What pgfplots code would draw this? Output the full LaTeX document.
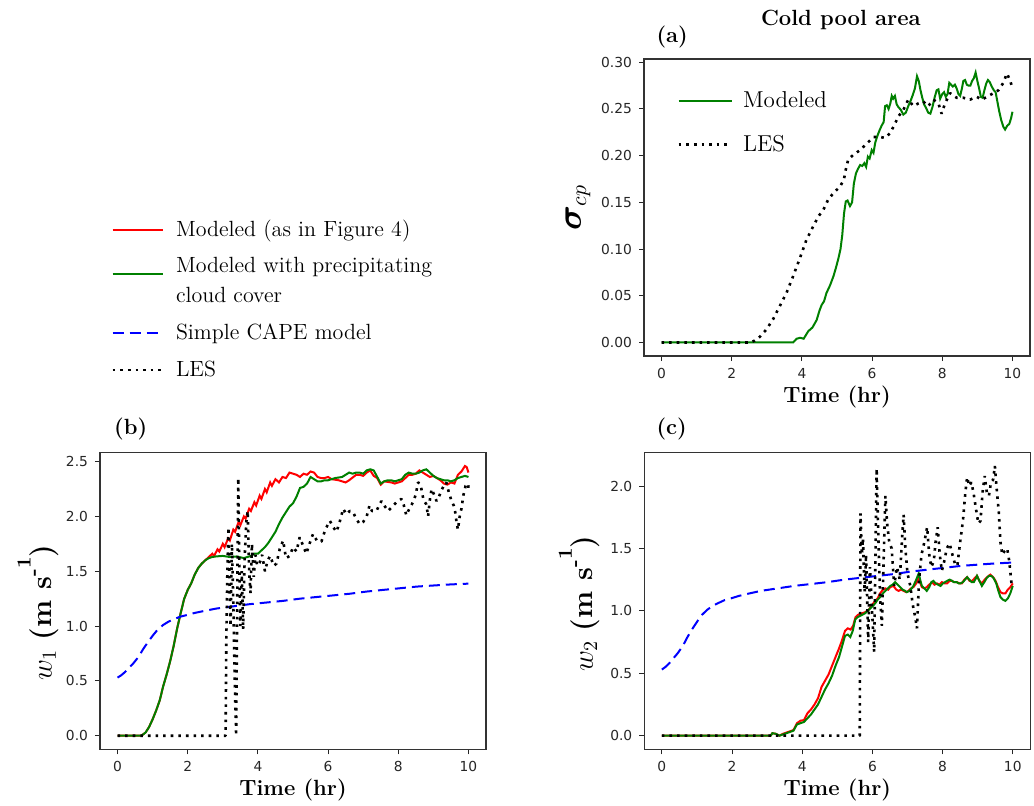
\documentclass[border=0pt]{standalone}
\usepackage{fontspec}
\usepackage{bm}
\usepackage{pgfplots}
\pgfplotsset{compat=1.18}
\newfontfamily\dejavu{DejaVu Sans}
\definecolor{mplgreen}{rgb}{0,0.5,0}
\newcommand{\unitlab}{\textbf{(m s\raisebox{0.42em}{\fontsize{10}{10}\selectfont -}\raisebox{0.72em}{\fontsize{10}{10}\selectfont 1})}}
\pgfplotsset{
  myaxis/.style={
    scale only axis, width=193pt, height=148.5pt,
    xmin=-0.5, xmax=10.5, xtick={0,2,...,10},
    tick pos=left, tick align=outside, major tick length=2.5pt,
    tick style={black!85, line width=0.5pt},
    axis line style={black!80, line width=0.6pt},
    tick label style={font=\dejavu\fontsize{6.9}{8}\selectfont, text=black!85},
    /pgf/number format/assume math mode=true,
    xlabel={\textbf{Time (hr)}},
    x label style={font=\fontsize{11}{13}\selectfont, at={(axis description cs:0.5,-0.138)}, anchor=center},
    y label style={font=\fontsize{14.5}{17}\selectfont, at={(axis description cs:-0.168,0.5)}, anchor=center},
    clip=false,
    legend image code/.code={\draw[##1] (0pt,0pt) -- (25pt,0pt);},
  },
  aleg/.style={legend image code/.code={\draw[##1] (0pt,0pt) -- (26.5pt,0pt);}},
  greenleg/.style={legend image code/.code={\draw[##1] (0pt,4pt) -- (25pt,4pt);}},
  redl/.style={color=red, line width=1pt},
  greenl/.style={color=mplgreen, line width=1pt},
  bluel/.style={color=blue, line width=1pt, dash pattern=on 5.5pt off 3pt},
  lesl/.style={color=black, line width=1.3pt, line join=bevel, dash pattern=on 1.3pt off 2.5pt},
}
\pgfplotstableread{
x y
0 0.53
0.1 0.55
0.21 0.58
0.33 0.62
0.45 0.66
0.6 0.72
0.73 0.79
0.88 0.86
1.02 0.92
1.15 0.97
1.3 1.01
1.45 1.04
1.59 1.06
1.78 1.085
1.97 1.10
2.2 1.12
2.5 1.14
2.82 1.16
3.3 1.18
3.77 1.20
4.25 1.215
4.72 1.23
5.2 1.25
5.67 1.265
6.15 1.28
6.62 1.295
7.1 1.315
7.57 1.33
8.05 1.345
8.52 1.36
9.0 1.37
9.5 1.38
10 1.387
}\capetable
\begin{document}
\begin{tikzpicture}
\path[use as bounding box] (0,0) rectangle (517pt,402.5pt);
% ---------------- (a)
\begin{axis}[myaxis, aleg, at={(322pt,224.5pt)}, anchor=south west,
  ymin=-0.0145, ymax=0.3035, ytick={0,0.05,...,0.3},
  yticklabel style={/pgf/number format/.cd, fixed, fixed zerofill, precision=2},
  ylabel={$\bm{\sigma}_{cp}$},
  y label style={font=\fontsize{16}{18}\selectfont, at={(axis description cs:-0.171,0.5)}},
  legend style={at={(axis description cs:0.07,0.92)}, anchor=north west, draw=none, fill=none,
    font=\fontsize{11.5}{13}\selectfont, row sep=8.5pt, column sep=3pt},
  legend cell align=left,
]
\addplot[greenl] coordinates {(0,0) (3.75,0) (3.85,0.004) (3.95,0.005) (4.05,0.004) (4.18,0.012) (4.3,0.016) (4.42,0.024) (4.5,0.034) (4.56,0.040) (4.63,0.044) (4.7,0.053) (4.8,0.061) (4.9,0.071) (4.97,0.080) (5.04,0.090) (5.1,0.100) (5.15,0.115) (5.2,0.138) (5.25,0.151) (5.3,0.152) (5.37,0.146) (5.43,0.150) (5.48,0.170) (5.54,0.181) (5.6,0.186) (5.66,0.190) (5.72,0.189) (5.78,0.192) (5.83,0.188) (5.88,0.199) (5.93,0.197) (5.99,0.206) (6.04,0.203) (6.09,0.214) (6.14,0.220) (6.2,0.226) (6.27,0.232) (6.33,0.236) (6.37,0.253) (6.42,0.254) (6.47,0.250) (6.52,0.256) (6.56,0.264) (6.6,0.261) (6.65,0.264) (6.7,0.255) (6.75,0.252) (6.82,0.249) (6.89,0.244) (6.96,0.246) (7.03,0.253) (7.1,0.259) (7.16,0.265) (7.22,0.272) (7.28,0.285) (7.33,0.280) (7.38,0.270) (7.43,0.262) (7.48,0.255) (7.54,0.251) (7.6,0.246) (7.66,0.245) (7.72,0.252) (7.78,0.262) (7.84,0.270) (7.89,0.271) (7.94,0.261) (8.0,0.266) (8.05,0.268) (8.1,0.263) (8.15,0.266) (8.2,0.278) (8.25,0.276) (8.3,0.274) (8.36,0.276) (8.41,0.272) (8.46,0.266) (8.51,0.264) (8.56,0.272) (8.6,0.280) (8.65,0.281) (8.7,0.276) (8.75,0.275) (8.8,0.275) (8.85,0.280) (8.9,0.283) (8.95,0.289) (9.0,0.280) (9.05,0.272) (9.1,0.263) (9.15,0.262) (9.2,0.270) (9.25,0.277) (9.3,0.281) (9.35,0.279) (9.41,0.274) (9.47,0.270) (9.52,0.268) (9.57,0.258) (9.62,0.248) (9.68,0.238) (9.74,0.231) (9.79,0.228) (9.85,0.232) (9.91,0.234) (9.96,0.240) (10,0.247)};
\addlegendentry{Modeled}
\addplot[lesl] coordinates {(0,0) (2.55,0) (2.65,0.002) (2.8,0.006) (2.99,0.014) (3.18,0.025) (3.37,0.039) (3.56,0.053) (3.75,0.071) (3.94,0.090) (4.13,0.110) (4.33,0.125) (4.47,0.135) (4.61,0.142) (4.75,0.153) (4.9,0.160) (5.09,0.167) (5.2,0.175) (5.25,0.185) (5.32,0.196) (5.47,0.201) (5.66,0.206) (5.85,0.213) (6.04,0.220) (6.23,0.220) (6.37,0.219) (6.51,0.224) (6.61,0.231) (6.75,0.242) (6.89,0.249) (7.03,0.260) (7.18,0.253) (7.32,0.256) (7.46,0.258) (7.6,0.253) (7.75,0.260) (7.89,0.256) (7.98,0.245) (8.08,0.256) (8.22,0.267) (8.41,0.262) (8.6,0.262) (8.79,0.260) (8.98,0.263) (9.13,0.260) (9.27,0.263) (9.46,0.267) (9.6,0.270) (9.74,0.278) (9.84,0.288) (9.93,0.281) (10,0.272)};
\addlegendentry{LES}
\node[font=\bfseries\fontsize{11}{13}\selectfont] at (axis description cs:0.51,1.131) {Cold pool area};
\node[font=\bfseries\fontsize{11}{13}\selectfont] at (axis description cs:0.073,1.075) {(a)};
\end{axis}
% ---------------- (b)
\begin{axis}[myaxis, at={(50pt,27.85pt)}, anchor=south west,
  ymin=-0.124, ymax=2.585, ytick={0,0.5,...,2.5},
  yticklabel style={/pgf/number format/.cd, fixed, fixed zerofill, precision=1},
  ylabel={$w_1$ \unitlab},
  y label style={at={(axis description cs:-0.16,0.46)}},
  legend style={at={(axis description cs:0.013,1.81)}, anchor=north west, draw=none, fill=none,
    font=\fontsize{11}{15}\selectfont, row sep=5pt, column sep=4pt, cells={align=left}},
  legend cell align=left,
]
\addplot[redl] coordinates {(0,0) (0.68,0) (0.8,0.03) (0.9,0.08) (1.0,0.15) (1.1,0.23) (1.2,0.32) (1.3,0.45) (1.4,0.56) (1.5,0.68) (1.6,0.82) (1.7,0.98) (1.8,1.12) (1.9,1.25) (2.0,1.33) (2.1,1.39) (2.2,1.47) (2.3,1.53) (2.4,1.57) (2.5,1.60) (2.6,1.63) (2.7,1.66) (2.75,1.64) (2.85,1.70) (2.9,1.68) (3.0,1.75) (3.05,1.72) (3.15,1.80) (3.2,1.78) (3.3,1.88) (3.35,1.86) (3.45,1.95) (3.5,1.92) (3.6,2.0) (3.65,1.98) (3.75,2.07) (3.8,2.05) (3.9,2.13) (3.95,2.10) (4.05,2.19) (4.1,2.16) (4.2,2.25) (4.25,2.22) (4.35,2.31) (4.4,2.28) (4.5,2.34) (4.6,2.31) (4.7,2.36) (4.8,2.35) (4.9,2.40) (5.0,2.39) (5.1,2.38) (5.2,2.36) (5.3,2.39) (5.4,2.38) (5.5,2.41) (5.6,2.40) (5.7,2.36) (5.8,2.35) (5.9,2.35) (6.0,2.36) (6.1,2.34) (6.3,2.33) (6.5,2.31) (6.6,2.33) (6.8,2.38) (6.9,2.38) (7.0,2.37) (7.1,2.40) (7.2,2.42) (7.3,2.37) (7.4,2.35) (7.5,2.29) (7.6,2.32) (7.8,2.31) (7.9,2.30) (8.0,2.31) (8.1,2.32) (8.2,2.35) (8.3,2.38) (8.4,2.38) (8.5,2.39) (8.6,2.42) (8.7,2.40) (8.8,2.38) (8.9,2.36) (9.0,2.37) (9.1,2.35) (9.2,2.33) (9.3,2.30) (9.4,2.29) (9.5,2.31) (9.6,2.30) (9.7,2.38) (9.8,2.41) (9.9,2.46) (9.95,2.45) (10,2.40)};
\addlegendentry{Modeled (as in Figure 4)}
\addplot[greenl, greenleg] coordinates {(0,0) (0.68,0) (0.8,0.03) (0.9,0.08) (1.0,0.15) (1.1,0.23) (1.2,0.32) (1.3,0.45) (1.4,0.56) (1.5,0.68) (1.6,0.82) (1.7,0.98) (1.8,1.12) (1.9,1.25) (2.0,1.33) (2.1,1.39) (2.2,1.47) (2.3,1.53) (2.4,1.57) (2.5,1.60) (2.6,1.62) (2.7,1.63) (2.8,1.635) (3.0,1.64) (3.2,1.63) (3.4,1.635) (3.6,1.62) (3.8,1.64) (3.9,1.66) (4.0,1.66) (4.1,1.69) (4.2,1.72) (4.3,1.76) (4.4,1.81) (4.5,1.86) (4.6,1.93) (4.7,1.99) (4.8,2.04) (4.9,2.09) (5.0,2.12) (5.1,2.18) (5.2,2.26) (5.3,2.27) (5.4,2.30) (5.5,2.36) (5.6,2.34) (5.7,2.32) (5.8,2.32) (5.9,2.33) (6.0,2.33) (6.2,2.35) (6.4,2.36) (6.5,2.38) (6.6,2.40) (6.7,2.39) (6.8,2.40) (6.9,2.40) (7.0,2.39) (7.1,2.42) (7.2,2.43) (7.3,2.42) (7.4,2.36) (7.5,2.30) (7.6,2.32) (7.7,2.33) (7.8,2.33) (7.9,2.32) (8.0,2.33) (8.1,2.34) (8.2,2.38) (8.3,2.40) (8.4,2.39) (8.5,2.39) (8.6,2.40) (8.7,2.42) (8.8,2.43) (8.9,2.40) (9.0,2.37) (9.1,2.35) (9.2,2.34) (9.3,2.33) (9.4,2.33) (9.5,2.32) (9.6,2.33) (9.7,2.35) (9.8,2.36) (9.9,2.37) (10.0,2.36)};
\addlegendentry{Modeled with precipitating\\cloud cover}
\addplot[bluel] table {\capetable};
\addlegendentry{Simple CAPE model}
\addplot[lesl] coordinates {(0,0) (3.08,0) (3.10,0.9) (3.13,1.5) (3.16,1.9) (3.19,1.4) (3.22,1.0) (3.26,1.75) (3.30,1.2) (3.34,0.5) (3.38,0.0) (3.41,1.2) (3.44,2.35) (3.47,1.6) (3.50,1.0) (3.54,1.5) (3.58,0.97) (3.62,1.6) (3.67,1.95) (3.71,2.05) (3.75,1.5) (3.79,1.3) (3.83,1.75) (3.88,1.45) (3.93,1.65) (3.98,1.55) (4.05,1.58) (4.12,1.65) (4.2,1.50) (4.28,1.60) (4.35,1.64) (4.45,1.55) (4.53,1.57) (4.62,1.70) (4.72,1.78) (4.8,1.62) (4.91,1.64) (5.0,1.72) (5.1,1.68) (5.19,1.81) (5.28,1.74) (5.38,1.66) (5.47,1.75) (5.57,1.84) (5.68,1.78) (5.81,1.77) (5.92,1.88) (6.05,1.96) (6.15,1.90) (6.24,1.86) (6.33,1.95) (6.43,2.07) (6.52,2.02) (6.62,2.05) (6.71,2.04) (6.8,1.98) (6.9,1.93) (7.0,1.95) (7.1,2.0) (7.18,2.10) (7.25,2.05) (7.38,2.05) (7.45,2.10) (7.52,2.14) (7.6,2.10) (7.71,2.05) (7.8,2.08) (7.95,2.13) (8.09,2.16) (8.16,2.10) (8.23,2.01) (8.3,2.06) (8.42,2.13) (8.5,2.2) (8.56,2.31) (8.62,2.30) (8.66,2.25) (8.72,2.15) (8.8,2.11) (8.85,2.0) (8.9,2.15) (8.95,2.25) (9.02,2.20) (9.09,2.14) (9.16,2.18) (9.23,2.24) (9.30,2.28) (9.37,2.31) (9.44,2.22) (9.52,2.14) (9.58,2.10) (9.61,2.07) (9.66,1.95) (9.70,1.88) (9.75,2.0) (9.80,2.07) (9.86,2.2) (9.92,2.28) (9.99,2.30) (10.0,2.25)};
\addlegendentry{LES}
\node[font=\bfseries\fontsize{11}{13}\selectfont] at (axis description cs:0.0795,1.079) {(b)};
\end{axis}
% ---------------- (c)
\begin{axis}[myaxis, at={(322.15pt,27.85pt)}, anchor=south west,
  ymin=-0.109, ymax=2.27, ytick={0,0.5,...,2.0},
  yticklabel style={/pgf/number format/.cd, fixed, fixed zerofill, precision=1},
  ylabel={$w_2$ \unitlab},
  y label style={at={(axis description cs:-0.168,0.49)}},
]
\addplot[redl] coordinates {(0,0) (3.1,0) (3.15,0.02) (3.25,0.015) (3.35,0.0) (3.45,0.015) (3.6,0.03) (3.75,0.045) (3.85,0.10) (3.95,0.12) (4.05,0.125) (4.15,0.18) (4.25,0.21) (4.35,0.25) (4.45,0.30) (4.55,0.39) (4.65,0.44) (4.75,0.49) (4.85,0.56) (4.95,0.63) (5.05,0.70) (5.13,0.76) (5.22,0.84) (5.30,0.86) (5.38,0.85) (5.45,0.88) (5.52,0.95) (5.6,0.97) (5.7,0.98) (5.8,0.99) (5.9,1.01) (6.0,1.05) (6.08,1.08) (6.15,1.10) (6.22,1.14) (6.30,1.17) (6.37,1.18) (6.45,1.17) (6.51,1.19) (6.6,1.20) (6.68,1.17) (6.75,1.16) (6.82,1.17) (6.89,1.16) (6.96,1.15) (7.03,1.16) (7.10,1.18) (7.17,1.19) (7.25,1.22) (7.32,1.26) (7.37,1.22) (7.41,1.19) (7.48,1.18) (7.55,1.19) (7.62,1.21) (7.70,1.23) (7.77,1.21) (7.84,1.22) (7.91,1.21) (7.98,1.23) (8.05,1.22) (8.13,1.22) (8.20,1.24) (8.27,1.24) (8.34,1.23) (8.41,1.23) (8.48,1.22) (8.55,1.22) (8.62,1.25) (8.70,1.27) (8.77,1.24) (8.84,1.24) (8.91,1.26) (8.98,1.28) (9.05,1.24) (9.12,1.22) (9.2,1.25) (9.27,1.27) (9.36,1.29) (9.44,1.27) (9.51,1.24) (9.58,1.19) (9.65,1.15) (9.72,1.14) (9.79,1.14) (9.86,1.17) (9.93,1.19) (10,1.22)};
\addplot[greenl] coordinates {(0,0) (3.1,0) (3.15,0.02) (3.25,0.015) (3.35,0.0) (3.45,0.01) (3.6,0.025) (3.75,0.04) (3.85,0.09) (3.95,0.10) (4.05,0.11) (4.15,0.14) (4.25,0.17) (4.35,0.21) (4.45,0.25) (4.55,0.31) (4.65,0.37) (4.75,0.42) (4.85,0.48) (4.95,0.56) (5.05,0.63) (5.13,0.71) (5.22,0.80) (5.30,0.81) (5.37,0.79) (5.44,0.84) (5.51,0.93) (5.58,0.95) (5.65,0.96) (5.72,0.97) (5.79,0.98) (5.86,1.00) (5.94,1.02) (6.01,1.04) (6.08,1.06) (6.15,1.09) (6.22,1.11) (6.30,1.14) (6.37,1.16) (6.44,1.18) (6.51,1.20) (6.58,1.21) (6.65,1.23) (6.72,1.21) (6.79,1.19) (6.86,1.17) (6.93,1.16) (6.98,1.15) (7.05,1.16) (7.12,1.18) (7.17,1.20) (7.25,1.25) (7.32,1.30) (7.37,1.24) (7.41,1.20) (7.48,1.18) (7.55,1.16) (7.62,1.19) (7.68,1.23) (7.74,1.24) (7.80,1.22) (7.87,1.21) (7.94,1.20) (8.01,1.22) (8.07,1.23) (8.13,1.24) (8.20,1.25) (8.27,1.24) (8.32,1.23) (8.40,1.23) (8.46,1.22) (8.51,1.22) (8.58,1.23) (8.64,1.25) (8.70,1.27) (8.76,1.25) (8.83,1.23) (8.89,1.23) (8.95,1.26) (8.98,1.28) (9.05,1.24) (9.12,1.20) (9.19,1.23) (9.25,1.26) (9.32,1.28) (9.39,1.28) (9.46,1.26) (9.53,1.22) (9.59,1.16) (9.65,1.11) (9.72,1.09) (9.79,1.08) (9.86,1.10) (9.93,1.14) (10,1.20)};
\addplot[bluel] table {\capetable};
\addplot[lesl] coordinates {(0,0) (5.64,0) (5.66,1.78) (5.70,1.45) (5.73,1.58) (5.78,1.15) (5.82,1.45) (5.88,0.75) (5.93,1.35) (6.0,0.95) (6.05,0.67) (6.09,1.5) (6.12,2.14) (6.17,1.6) (6.22,1.1) (6.27,0.88) (6.32,1.4) (6.37,1.92) (6.42,1.7) (6.48,1.55) (6.55,1.5) (6.62,1.2) (6.70,1.35) (6.78,1.25) (6.85,1.6) (6.89,1.77) (6.94,1.5) (7.0,1.3) (7.08,1.2) (7.15,1.05) (7.22,0.95) (7.27,0.86) (7.33,1.25) (7.40,1.45) (7.48,1.55) (7.56,1.67) (7.62,1.45) (7.68,1.35) (7.75,1.40) (7.80,1.55) (7.86,1.67) (7.92,1.45) (7.98,1.32) (8.05,1.40) (8.12,1.50) (8.20,1.54) (8.28,1.45) (8.35,1.38) (8.42,1.36) (8.50,1.55) (8.58,1.72) (8.65,1.95) (8.70,2.07) (8.76,2.0) (8.82,2.03) (8.88,1.95) (8.95,1.82) (9.02,1.70) (9.08,1.72) (9.14,1.95) (9.20,2.08) (9.26,1.95) (9.32,1.92) (9.38,2.03) (9.44,2.05) (9.49,2.16) (9.55,1.95) (9.60,1.80) (9.65,1.55) (9.70,1.45) (9.77,1.48) (9.84,1.50) (9.90,1.40) (9.96,1.23) (10.0,1.20)};
\node[font=\bfseries\fontsize{11}{13}\selectfont] at (axis description cs:0.071,1.079) {(c)};
\end{axis}
\end{tikzpicture}
\end{document}
